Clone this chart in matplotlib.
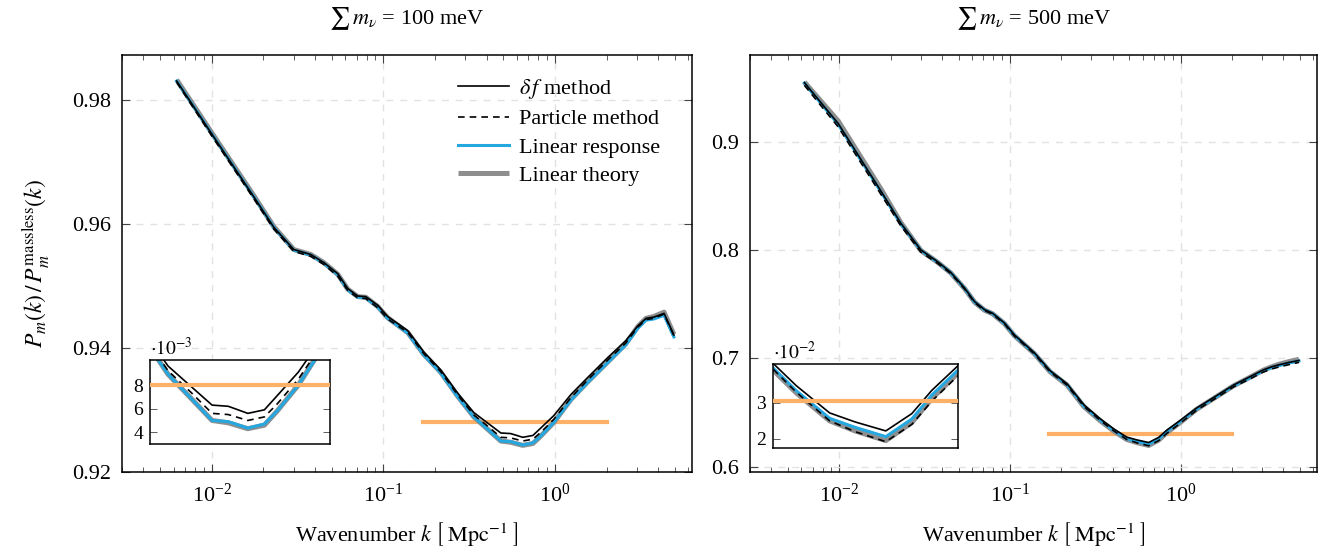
import matplotlib
matplotlib.use("Agg")
import matplotlib.pyplot as plt
from matplotlib.ticker import FixedLocator, FuncFormatter, LogLocator, NullFormatter, NullLocator

plt.rcParams["font.family"] = ["Liberation Serif", "DejaVu Serif"]
plt.rcParams["mathtext.fontset"] = "stix"
plt.rcParams["font.size"] = 16

# wavenumbers [1/Mpc], shared by both runs
k = [0.00625, 0.00987, 0.0176, 0.0230, 0.0301, 0.0378, 0.0450, 0.0543, 0.0621,
     0.0710, 0.0791, 0.0929, 0.106, 0.139, 0.172, 0.216, 0.272, 0.337, 0.406,
     0.484, 0.553, 0.650, 0.745, 0.828, 0.986, 1.24, 1.56, 2.04, 2.59, 3.05,
     3.40, 3.78, 4.33, 4.94]

# sum m_nu = 100 meV
deltaf_100 = [0.9831, 0.9748, 0.9644, 0.9595, 0.9559, 0.9551, 0.9538, 0.9520, 0.9496,
              0.9484, 0.9483, 0.9469, 0.9451, 0.9428, 0.9394, 0.9365, 0.9327, 0.9296,
              0.9279, 0.9263, 0.9262, 0.9256, 0.9259, 0.9271, 0.9291, 0.9325, 0.9353,
              0.9385, 0.9412, 0.9436, 0.9448, 0.9450, 0.9456, 0.9421]
particle_100 = [0.9829, 0.9745, 0.9641, 0.9592, 0.9556, 0.9548, 0.9535, 0.9516, 0.9493,
                0.9481, 0.9480, 0.9465, 0.9447, 0.9425, 0.9391, 0.9362, 0.9324, 0.9292,
                0.9274, 0.9256, 0.9255, 0.9250, 0.9253, 0.9264, 0.9285, 0.9320, 0.9349,
                0.9381, 0.9408, 0.9434, 0.9446, 0.9448, 0.9455, 0.9420]
response_100 = [0.9831, 0.9748, 0.9644, 0.9595, 0.9558, 0.9550, 0.9537, 0.9518, 0.9494,
                0.9482, 0.9481, 0.9466, 0.9448, 0.9424, 0.9389, 0.9360, 0.9321, 0.9289,
                0.9269, 0.9250, 0.9249, 0.92435, 0.9247, 0.9258, 0.9280, 0.9316, 0.9345,
                0.9377, 0.9405, 0.9432, 0.9445, 0.9447, 0.9453, 0.9418]
theory_100 = [0.9833, 0.9750, 0.9646, 0.9596, 0.9559, 0.9551, 0.9538, 0.9519, 0.9495,
              0.9483, 0.9482, 0.9467, 0.9449, 0.9425, 0.9390, 0.9361, 0.9322, 0.9289,
              0.9269, 0.9250, 0.9248, 0.9243, 0.9246, 0.9258, 0.9280, 0.9317, 0.9346,
              0.9378, 0.9407, 0.9435, 0.9448, 0.9451, 0.9458, 0.9422]

# sum m_nu = 500 meV
deltaf_500 = [0.9545, 0.9166, 0.8540, 0.8245, 0.8000, 0.7890, 0.7793, 0.7648, 0.7523,
              0.7449, 0.7416, 0.7326, 0.7217, 0.7051, 0.6885, 0.6765, 0.6568, 0.6443,
              0.6348, 0.6272, 0.6247, 0.6222, 0.6270, 0.6335, 0.6422, 0.6540, 0.6637,
              0.6752, 0.6835, 0.6892, 0.6920, 0.6940, 0.6962, 0.6980]
particle_500 = [0.9520, 0.9135, 0.8510, 0.8220, 0.7980, 0.7875, 0.7783, 0.7638, 0.7513,
                0.7440, 0.7407, 0.7317, 0.7207, 0.7040, 0.6873, 0.6752, 0.6554, 0.6428,
                0.6330, 0.6250, 0.6220, 0.6192, 0.6240, 0.6305, 0.6395, 0.6520, 0.6618,
                0.6735, 0.6815, 0.6872, 0.6900, 0.6920, 0.6942, 0.6962]
response_500 = [0.9540, 0.9158, 0.8533, 0.8240, 0.7995, 0.7886, 0.7790, 0.7645, 0.7520,
                0.7446, 0.7413, 0.7322, 0.7212, 0.7045, 0.6878, 0.6757, 0.6558, 0.6431,
                0.6334, 0.6257, 0.6232, 0.6206, 0.6255, 0.6322, 0.6410, 0.6530, 0.6628,
                0.6744, 0.6826, 0.6884, 0.6913, 0.6933, 0.6956, 0.6975]
theory_500 = [0.9550, 0.9190, 0.8560, 0.8250, 0.7995, 0.7885, 0.7788, 0.7643, 0.7518,
              0.7444, 0.7411, 0.7320, 0.7210, 0.7043, 0.6875, 0.6753, 0.6552, 0.6425,
              0.6328, 0.6250, 0.6222, 0.6195, 0.6245, 0.6312, 0.6402, 0.6528, 0.6628,
              0.6745, 0.6830, 0.6890, 0.6920, 0.6945, 0.6970, 0.6990]

# orange reference bar
bar_k = [0.17, 2.0]
bar_100 = 0.928
bar_500 = 0.6305

titles = [r"$\sum\, m_\nu$ = 100 meV", r"$\sum\, m_\nu$ = 500 meV"]
yticks_100 = [0.92, 0.94, 0.96, 0.98]
yticks_500 = [0.6, 0.7, 0.8, 0.9]
inset_ticks_100 = [0.924, 0.926, 0.928]
inset_ticks_500 = [0.62, 0.63]

BLUE = "#25a7e0"
GRAY = "#8e8e8e"
ORANGE = "#fdb068"


def style_axes(ax):
    ax.set_xscale("log")
    ax.set_xlim(3.0e-3, 6.3)
    ax.xaxis.set_major_locator(LogLocator(base=10, numticks=10))
    ax.xaxis.set_minor_locator(LogLocator(base=10, subs=range(2, 10), numticks=20))
    ax.xaxis.set_minor_formatter(NullFormatter())
    ax.tick_params(which="both", direction="in", top=True, right=True,
                   color="#444444", labelsize=16)
    ax.tick_params(which="major", length=6, width=0.8, pad=8)
    ax.tick_params(which="minor", length=3.5, width=0.6)
    for s in ax.spines.values():
        s.set_linewidth(1.1)
    ax.grid(True, which="major", color="#e2e2e2", linestyle=(0, (5, 5)), linewidth=1.0)
    ax.set_axisbelow(True)


def draw_curves(ax, df, pa, resp, th):
    l4, = ax.plot(k, th, color=GRAY, lw=3.6, solid_capstyle="butt")
    l3, = ax.plot(k, resp, color=BLUE, lw=2.2)
    l2, = ax.plot(k, pa, color="black", lw=1.2, ls=(0, (4, 3)))
    l1, = ax.plot(k, df, color="black", lw=1.2)
    return [l1, l2, l3, l4]


def draw_inset(ax, rect, df, pa, resp, th, bar, xlim, ylim, ticks, offset, scale, label):
    ins = ax.inset_axes(rect)
    ins.set_facecolor("white")
    draw_curves(ins, df, pa, resp, th)
    ins.plot(bar_k, [bar, bar], color=ORANGE, lw=3.0, zorder=5)
    ins.set_xscale("log")
    ins.set_xlim(*xlim)
    ins.set_ylim(*ylim)
    ins.xaxis.set_major_locator(NullLocator())
    ins.xaxis.set_minor_locator(NullLocator())
    ins.yaxis.set_major_locator(FixedLocator(ticks))
    ins.yaxis.set_major_formatter(FuncFormatter(lambda v, p: "%d" % round((v - offset) * scale)))
    ins.tick_params(direction="in", left=True, right=True, length=5, width=0.6,
                    color="#444444", labelsize=14, pad=5)
    for s in ins.spines.values():
        s.set_linewidth(1.1)
    ins.text(0.0, 1.01, label, transform=ins.transAxes, ha="left", va="bottom", fontsize=14)
    return ins


fig = plt.figure(figsize=(13.27, 5.5), dpi=100)
ax1 = fig.add_axes([122 / 1327, 78 / 550, 570 / 1327, 417 / 550])
ax2 = fig.add_axes([750 / 1327, 78 / 550, 567 / 1327, 417 / 550])

xlabel = r"Wavenumber $k$ $\left[\;\mathrm{Mpc}^{-1}\;\right]$"

### left panel: 100 meV
style_axes(ax1)
ax1.plot(bar_k, [bar_100, bar_100], color=ORANGE, lw=3.0, zorder=1)
lines = draw_curves(ax1, deltaf_100, particle_100, response_100, theory_100)
ax1.set_ylim(0.92, 0.9873)
ax1.yaxis.set_major_locator(FixedLocator(yticks_100))
ax1.yaxis.set_major_formatter(FuncFormatter(lambda v, p: "%.2f" % v))
ax1.set_title(titles[0], fontsize=16, pad=22)
ax1.set_xlabel(xlabel, fontsize=16, labelpad=10)
ax1.set_ylabel(r"$P_m(k)\,/\,P_m^{\mathrm{massless}}(k)$", fontsize=17, labelpad=14)
ax1.legend(lines, [r"$\delta\, f$ method", "Particle method", "Linear response", "Linear theory"],
           loc="upper right", bbox_to_anchor=(0.98, 0.995), frameon=False, fontsize=16,
           handlelength=2.3, labelspacing=0.35, handletextpad=0.45)
draw_inset(ax1, [0.049, 0.067, 0.316, 0.201], deltaf_100, particle_100, response_100,
           theory_100, bar_100, (0.29, 1.28), (0.9230, 0.9301), inset_ticks_100,
           0.92, 1000, r"$\cdot 10^{-3}$")

### right panel: 500 meV
style_axes(ax2)
ax2.plot(bar_k, [bar_500, bar_500], color=ORANGE, lw=3.0, zorder=1)
draw_curves(ax2, deltaf_500, particle_500, response_500, theory_500)
ax2.set_ylim(0.595, 0.98)
ax2.yaxis.set_major_locator(FixedLocator(yticks_500))
ax2.yaxis.set_major_formatter(FuncFormatter(lambda v, p: "%.1f" % v))
ax2.set_title(titles[1], fontsize=16, pad=22)
ax2.set_xlabel(xlabel, fontsize=16, labelpad=10)
draw_inset(ax2, [0.041, 0.058, 0.326, 0.201], deltaf_500, particle_500, response_500,
           theory_500, bar_500, (0.36, 0.95), (0.6175, 0.6408), inset_ticks_500,
           0.60, 100, r"$\cdot 10^{-2}$")

fig.savefig("out.png", dpi=100)
